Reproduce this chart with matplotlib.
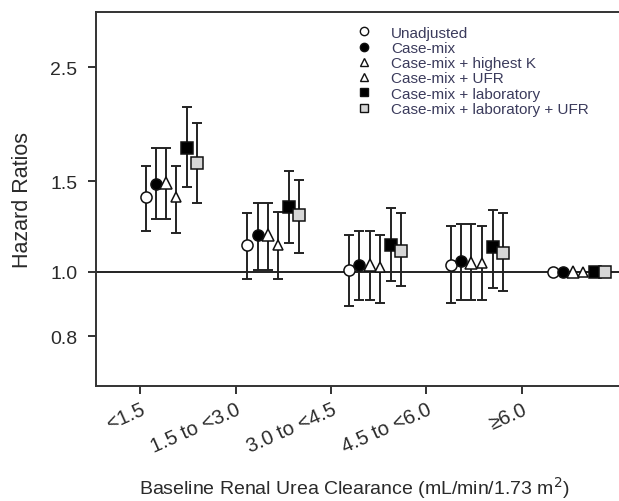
import matplotlib.pyplot as plt
import numpy as np
from matplotlib.lines import Line2D

plt.rcParams['font.family'] = ['Liberation Sans', 'DejaVu Sans']

categories = ["<1.5", "1.5 to <3.0", "3.0 to <4.5", "4.5 to <6.0", "\u22656.0"]
models = ["Unadjusted", "Case-mix", "Case-mix + highest K", "Case-mix + UFR",
          "Case-mix + laboratory", "Case-mix + laboratory + UFR"]

# hazard ratios per model, one value per category
hr = {
    "Unadjusted":                  [1.40, 1.13, 1.01, 1.03, 1.00],
    "Case-mix":                    [1.48, 1.18, 1.03, 1.05, 1.00],
    "Case-mix + highest K":        [1.49, 1.18, 1.03, 1.04, 1.00],
    "Case-mix + UFR":              [1.40, 1.13, 1.02, 1.04, 1.00],
    "Case-mix + laboratory":       [1.74, 1.34, 1.13, 1.12, 1.00],
    "Case-mix + laboratory + UFR": [1.63, 1.29, 1.10, 1.09, 1.00],
}
lower = {
    "Unadjusted":                  [1.20, 0.97, 0.86, 0.87, 1.00],
    "Case-mix":                    [1.27, 1.01, 0.88, 0.88, 1.00],
    "Case-mix + highest K":        [1.27, 1.01, 0.88, 0.88, 1.00],
    "Case-mix + UFR":              [1.19, 0.97, 0.87, 0.88, 1.00],
    "Case-mix + laboratory":       [1.46, 1.14, 0.96, 0.93, 1.00],
    "Case-mix + laboratory + UFR": [1.36, 1.09, 0.94, 0.92, 1.00],
}
upper = {
    "Unadjusted":                  [1.61, 1.30, 1.18, 1.23, 1.00],
    "Case-mix":                    [1.74, 1.36, 1.20, 1.24, 1.00],
    "Case-mix + highest K":        [1.74, 1.36, 1.20, 1.24, 1.00],
    "Case-mix + UFR":              [1.61, 1.31, 1.18, 1.23, 1.00],
    "Case-mix + laboratory":       [2.09, 1.57, 1.33, 1.32, 1.00],
    "Case-mix + laboratory + UFR": [1.95, 1.51, 1.30, 1.30, 1.00],
}

styles = {
    "Unadjusted":                  dict(marker="o", mfc="white", ms=8),
    "Case-mix":                    dict(marker="o", mfc="black", ms=8),
    "Case-mix + highest K":        dict(marker="^", mfc="white", ms=8),
    "Case-mix + UFR":              dict(marker="^", mfc="white", ms=7),
    "Case-mix + laboratory":       dict(marker="s", mfc="black", ms=8),
    "Case-mix + laboratory + UFR": dict(marker="s", mfc="#d6d6d6", ms=8),
}
offsets = [0.0, 0.1, 0.2, 0.3, 0.41, 0.51]

fig = plt.figure(figsize=(6.19, 5.02), dpi=100)
ax = fig.add_axes([0.155, 0.229, 0.86, 0.745])

x = np.arange(len(categories))
for m, off in zip(models, offsets):
    y = np.array(hr[m])
    err = [y - np.array(lower[m]), np.array(upper[m]) - y]
    ax.errorbar(x + off, y, yerr=err, fmt="none", ecolor="#222222",
                elinewidth=1.4, capsize=3.8, capthick=1.4, zorder=2)
    ax.plot(x + off, y, linestyle="none", mec="#111111", mew=1.1,
            zorder=3, **styles[m])

ax.axhline(1.0, color="#222222", lw=1.4, zorder=1)

ax.set_yscale("log")
ax.set_ylim(0.6, 3.2)
ax.set_xlim(-0.487, 4.74)
ax.set_yticks([0.75, 1.0, 1.5, 2.5])
ax.set_yticklabels(["0.8", "1.0", "1.5", "2.5"])
ax.yaxis.set_minor_locator(plt.NullLocator())

tick_pos = -0.05 + 0.936 * x
ax.set_xticks(tick_pos)
ax.set_xticklabels(categories, rotation=24, ha="right", rotation_mode="anchor")

ax.tick_params(axis="both", direction="out", length=5.5, width=1.3,
               labelsize=14, labelcolor="#2a2a2a", color="#222222")
ax.tick_params(axis="x", labelsize=14.5, pad=4)
ax.tick_params(axis="y", pad=8)
for s in ax.spines.values():
    s.set_linewidth(1.4)
    s.set_color("#333333")

ax.set_ylabel("Hazard Ratios", fontsize=15.5, color="#2a2a2a", labelpad=12)
ax.set_xlabel("Baseline Renal Urea Clearance (mL/min/1.73 m$^2$)",
              fontsize=14, color="#2a2a2a")
ax.xaxis.set_label_coords(0.485, -0.235)

handles = [Line2D([], [], linestyle="none", mec="#111111", mew=1.0,
                  **{**styles[m], "ms": 6}) for m in models]
ax.legend(handles, models, loc="upper left", bbox_to_anchor=(0.457, 1.0),
          frameon=False, fontsize=11, labelspacing=0.08, handletextpad=1.0,
          handlelength=1.5, labelcolor="#3b3b5c")

fig.savefig("out.png", dpi=100)
